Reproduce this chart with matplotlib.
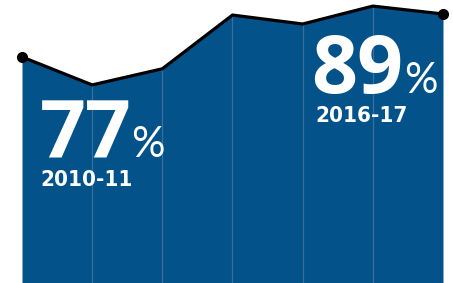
import matplotlib.pyplot as plt
import numpy as np

# School years and rates (plotted on a non-zero scale)
years = ["2010-11", "2011-12", "2012-13", "2013-14", "2014-15", "2015-16", "2016-17"]
rates = [77, 69.2, 73.7, 88.7, 86.2, 91.2, 89]
first_label = "77"
last_label = "89"

blue = "#03538a"
grid_blue = "#3b6f9b"

fig = plt.figure(figsize=(4.53, 2.83), dpi=100)
ax = fig.add_axes([0, 0, 1, 1])
x = np.arange(len(years))

ax.fill_between(x, rates, 13.9, color=blue, lw=0, zorder=1)
# thin lighter dividers at the inner points
for i in x[1:-1]:
    ax.plot([i, i], [13.9, rates[i]], color=grid_blue, lw=0.9, zorder=2)
ax.plot(x, rates, color="black", lw=2.3, zorder=3, solid_capstyle="round")
ax.plot([x[0], x[-1]], [rates[0], rates[-1]], "o", color="black", ms=7, zorder=4)

ax.set_xlim(-0.3135, 6.1425)
ax.set_ylim(13.9, 92.9)
ax.axis("off")

big = dict(color="white", fontweight="bold", fontsize=58, family=["Open Sans", "DejaVu Sans"])
pct = dict(color="white", fontsize=30, fontweight="normal", family=["Lato", "DejaVu Sans"])
yr = dict(color="white", fontweight="bold", fontsize=16, fontstretch="condensed",
          family=["DejaVu Sans"])


def put(px, py, s, **kw):
    fig.text(px / 453, 1 - py / 283, s, va="baseline", **kw)


put(40, 157, first_label, **big)
put(131, 157, "%", **pct)
put(40, 186, years[0], **yr)

put(311, 93, last_label, **big)
put(404, 93, "%", **pct)
put(315, 122, years[-1], **yr)

fig.savefig("out.png", dpi=100, facecolor="white")
